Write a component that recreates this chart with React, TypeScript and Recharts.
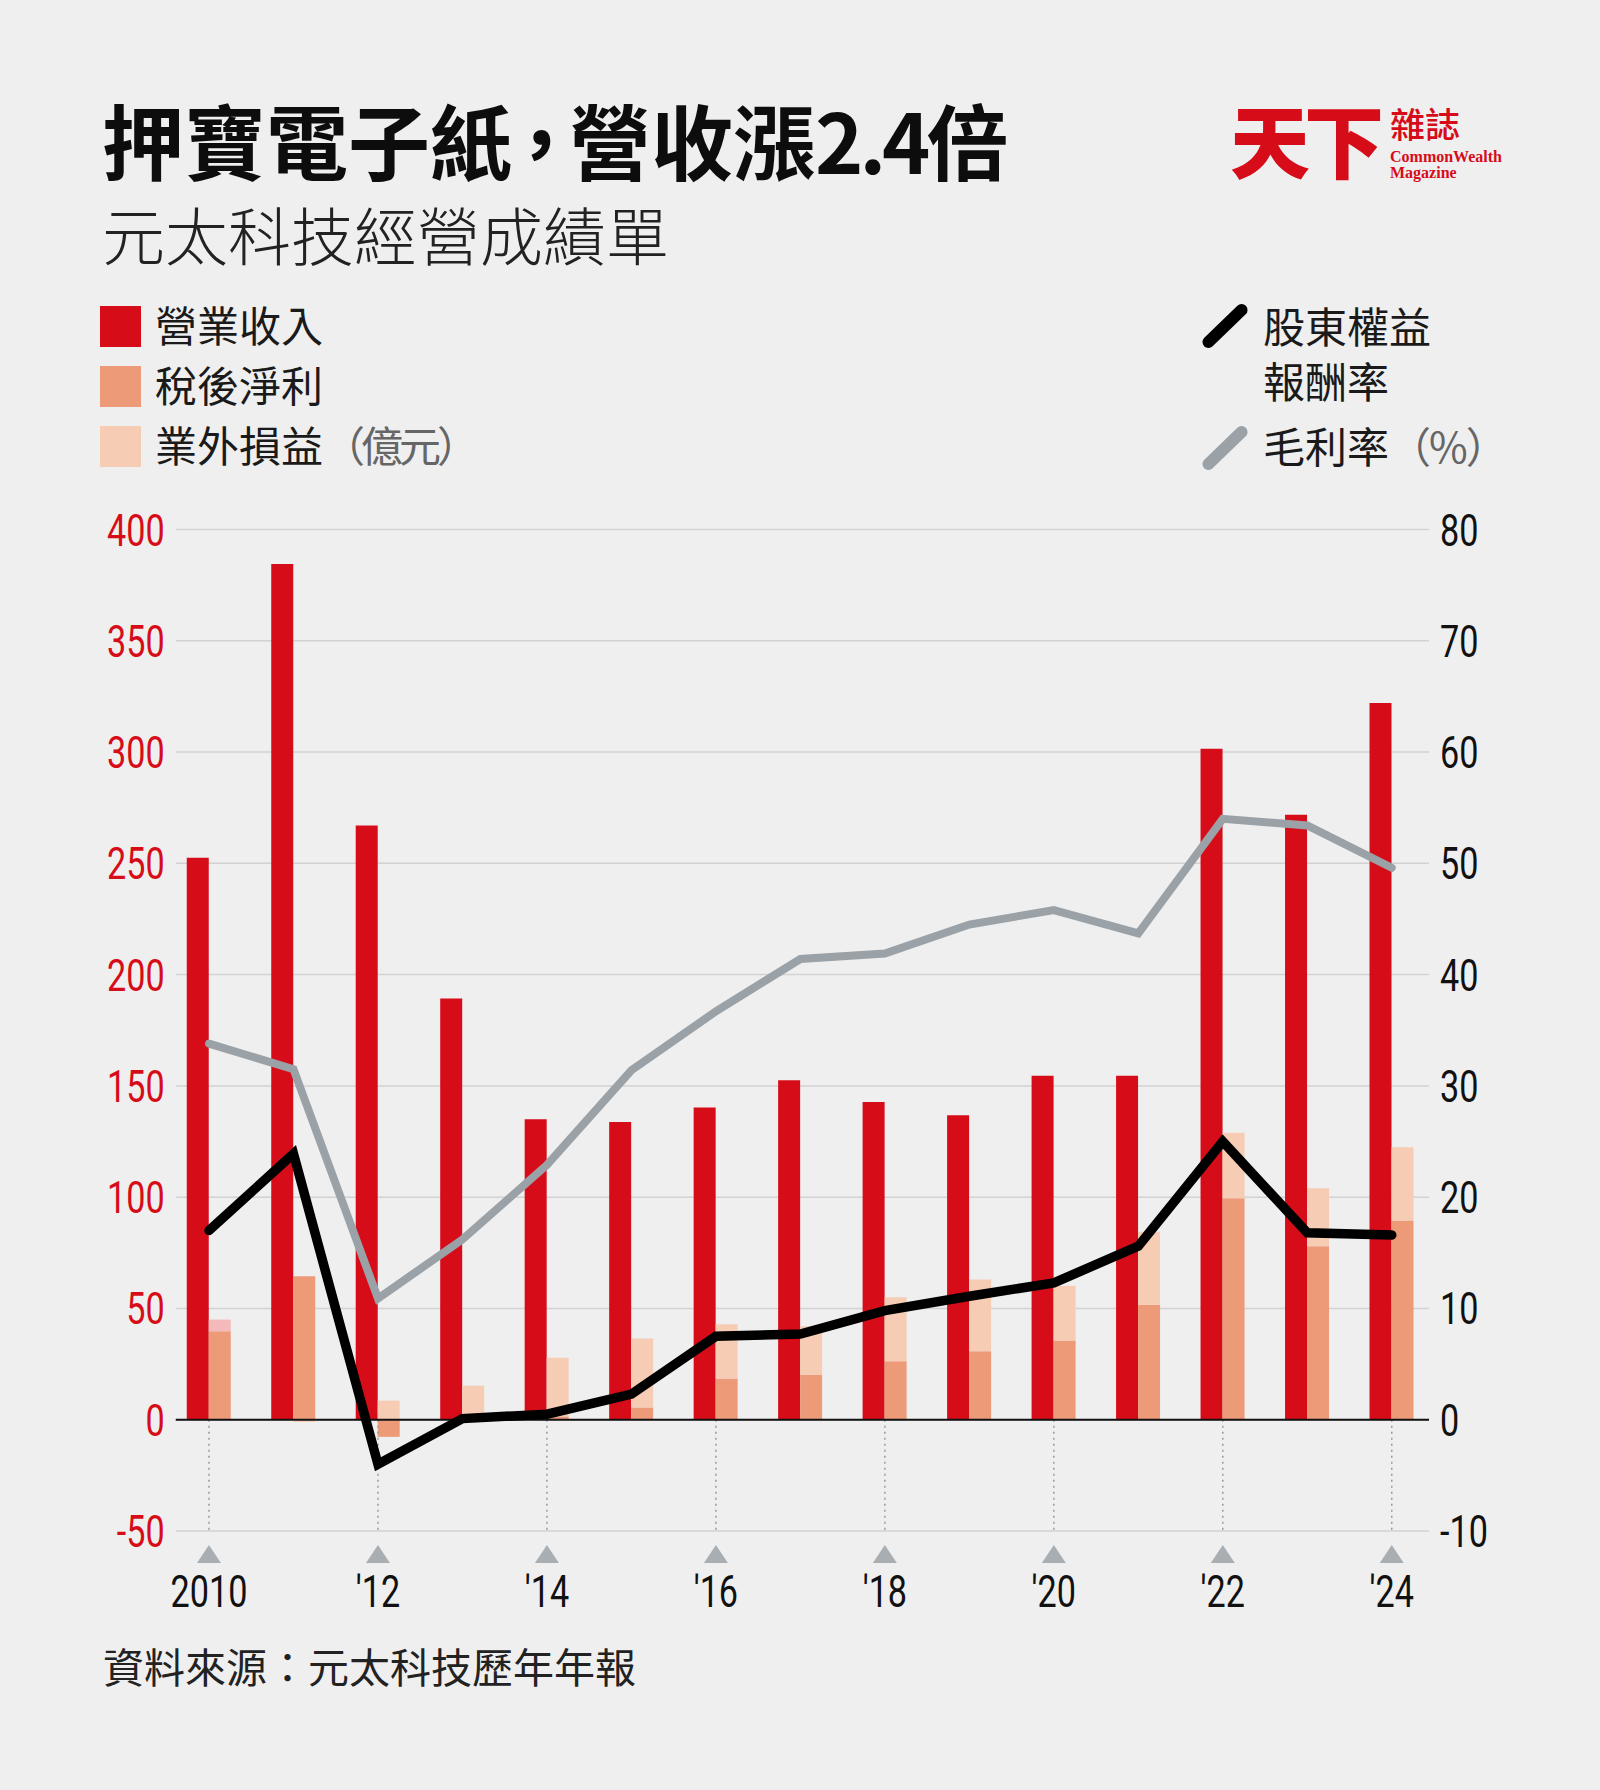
import { ComposedChart, Bar, Line, XAxis, YAxis, CartesianGrid, ReferenceLine, Cell } from "recharts";

const years = ["2010", "2011", "2012", "2013", "2014", "2015", "2016", "2017", "2018", "2019", "2020", "2021", "2022", "2023", "2024"];
// 億元
const revenue = [252.5, 384.5, 267, 189.3, 135, 133.8, 140.3, 152.5, 142.8, 136.8, 154.5, 154.5, 301.5, 271.8, 322];
const netProfit = [39.8, 64.5, -7.7, 0.3, 1.5, 5.5, 18.5, 20.2, 26.3, 30.8, 35.6, 51.7, 99.5, 78, 89.5];
const nonOperating = [5.2, -1, 8.6, 15, 26.4, 31, 24.4, 21.8, 28.7, 32.2, 24.6, 32.8, 29.5, 26, 32.9];
// %
const roe = [17.0, 23.9, -4.0, 0.1, 0.5, 2.3, 7.5, 7.7, 9.8, 11.1, 12.3, 15.6, 25.0, 16.8, 16.6];
const grossMargin = [33.8, 31.5, 10.9, 16.2, 22.9, 31.4, 36.7, 41.4, 41.9, 44.5, 45.8, 43.7, 54.0, 53.4, 49.6];

const leftTicks = [-50, 0, 50, 100, 150, 200, 250, 300, 350, 400];
const rightTicks = [-10, 0, 10, 20, 30, 40, 50, 60, 70, 80];
const markedYears = ["2010", "2012", "2014", "2016", "2018", "2020", "2022", "2024"];
const markedLabels = ["2010", "'12", "'14", "'16", "'18", "'20", "'22", "'24"];

const RED = "#d70c19";
const ORANGE = "#ec9a78";
const LIGHT = "#f6ccb5";
const PINK = "#f3b9bb";
const GRAY = "#9aa1a7";
const BG = "#efefef";
const CJK = "'Noto Sans CJK TC', 'Noto Sans CJK SC', sans-serif";
const NUM = "Roboto, 'Noto Sans', sans-serif";
const SQUEEZE = 0.76; // numbers in the original use a condensed face

const data = years.map((year, i) => ({
    year,
    revenue: revenue[i],
    net: netProfit[i],
    nonop: nonOperating[i],
    roe: roe[i],
    gross: grossMargin[i],
}));

const NumText = ({ x, y, anchor, color, children }: any) => (
    <text
        transform={`translate(${x},${y}) scale(${SQUEEZE},1)`}
        textAnchor={anchor}
        fill={color}
        fontSize={45}
        fontWeight={400}
        fontFamily={NUM}
    >
        {children}
    </text>
);

const LeftTick = ({ x, y, payload }: any) => (
    <NumText x={x - 2} y={y + 16} anchor="end" color={RED}>
        {payload.value}
    </NumText>
);

const RightTick = ({ x, y, payload }: any) => (
    <NumText x={x + 6} y={y + 16} anchor="start" color="#111">
        {payload.value}
    </NumText>
);

const YearTick = ({ x, y, payload }: any) => {
    const idx = markedYears.indexOf(payload.value);
    if (idx < 0) return <g />;
    return (
        <g>
            <path d={`M${x - 12},${y + 32} L${x + 12},${y + 32} L${x},${y + 14} Z`} fill="#a9aeb3" />
            <NumText x={x} y={y + 76} anchor="middle" color="#111">
                {markedLabels[idx]}
            </NumText>
        </g>
    );
};

const gridLine = (p: any) => (
    <line key={`grid-${p.y1}`} x1={p.x1 + 9} x2={p.x2 - 5} y1={p.y1} y2={p.y2} stroke="#d2d2d2" strokeWidth={1.5} />
);

const zeroLine = (p: any) => (
    <line x1={p.x1 + 9} x2={p.x2 - 5} y1={p.y1} y2={p.y2} stroke="#111" strokeWidth={2} />
);

const box = (left: number, top: number, size: number, extra: any = {}) => ({
    position: "absolute" as const,
    left,
    top,
    fontSize: size,
    lineHeight: 1,
    fontFamily: CJK,
    whiteSpace: "nowrap" as const,
    ...extra,
});

function Legend() {
    const sq = (top: number, color: string) => (
        <div style={{ position: "absolute", left: 100, top, width: 41, height: 41, background: color }} />
    );
    const stroke = (cy: number, color: string) => (
        <div
            style={{
                position: "absolute",
                left: 1225 - 29,
                top: cy - 6,
                width: 58,
                height: 12,
                borderRadius: 6,
                background: color,
                transform: "rotate(-44deg)",
            }}
        />
    );
    return (
        <>
            {sq(306, RED)}
            {sq(366, ORANGE)}
            {sq(426, LIGHT)}
            <div style={box(155, 303, 42, { color: "#1a1a1a" })}>營業收入</div>
            <div style={box(155, 363, 42, { color: "#1a1a1a" })}>稅後淨利</div>
            <div style={box(155, 423, 42, { color: "#1a1a1a" })}>
                業外損益<span style={{ color: "#666", letterSpacing: -4 }}>（億元）</span>
            </div>

            {stroke(326, "#000")}
            {stroke(448, GRAY)}
            <div style={box(1263, 304, 42, { color: "#1a1a1a" })}>股東權益</div>
            <div style={box(1263, 359, 42, { color: "#1a1a1a" })}>報酬率</div>
            <div style={box(1263, 424, 42, { color: "#1a1a1a" })}>
                毛利率<span style={{ color: "#666", letterSpacing: -2 }}>（%）</span>
            </div>
        </>
    );
}

export default function App() {
    return (
        <div style={{ position: "absolute", left: 0, top: 0, width: 1600, height: 1790, background: BG, overflow: "hidden" }}>
            <div style={box(102, 98, 82, { fontWeight: 700, color: "#0d0d0d" })}>
                押寶電子<span style={{ letterSpacing: -12 }}>紙</span>
                <span style={{ letterSpacing: -13 }}>，</span>營收漲<span style={{ letterSpacing: -4 }}>2.4</span>倍
            </div>
            <div style={box(102, 201, 63, { fontWeight: 300, color: "#222" })}>元太科技經營成績單</div>

            <div style={box(1230, 97, 80, { fontWeight: 900, color: RED, letterSpacing: -6 })}>天下</div>
            <div style={box(1390, 105, 35, { fontWeight: 500, color: RED })}>雜誌</div>
            <div style={{ position: "absolute", left: 1390, top: 149, fontSize: 16, lineHeight: "16px", fontFamily: "'Liberation Serif', serif", fontWeight: 700, color: RED }}>
                CommonWealth
            </div>
            <div style={{ position: "absolute", left: 1390, top: 165, fontSize: 16, lineHeight: "16px", fontFamily: "'Liberation Serif', serif", fontWeight: 700, color: RED }}>
                Magazine
            </div>

            <Legend />

            <div style={{ position: "absolute", left: 0, top: 0 }}>
                <ComposedChart
                    width={1600}
                    height={1790}
                    data={data}
                    margin={{ top: 529.5, right: 66, bottom: 159, left: 66.75 }}
                    barGap={0}
                    stackOffset="sign"
                >
                    <CartesianGrid yAxisId="left" vertical={false} horizontal={gridLine} />
                    <XAxis
                        dataKey="year"
                        height={100}
                        axisLine={false}
                        tickLine={false}
                        tickSize={0}
                        tickMargin={0}
                        interval={0}
                        tick={<YearTick />}
                    />
                    <YAxis
                        yAxisId="left"
                        width={100}
                        domain={[-50, 400]}
                        ticks={leftTicks}
                        axisLine={false}
                        tickLine={false}
                        tickSize={0}
                        tickMargin={0}
                        tick={<LeftTick />}
                    />
                    <YAxis
                        yAxisId="right"
                        orientation="right"
                        width={100}
                        domain={[-10, 80]}
                        ticks={rightTicks}
                        axisLine={false}
                        tickLine={false}
                        tickSize={0}
                        tickMargin={0}
                        tick={<RightTick />}
                    />
                    {markedYears.map((yr) => (
                        <ReferenceLine
                            key={yr}
                            yAxisId="left"
                            segment={[{ x: yr, y: 0 }, { x: yr, y: -50 }]}
                            stroke="#9a9a9a"
                            strokeWidth={1.5}
                            strokeDasharray="2 4"
                        />
                    ))}
                    <Bar yAxisId="left" dataKey="revenue" stackId="a" fill={RED} barSize={22} isAnimationActive={false} />
                    <Bar yAxisId="left" dataKey="net" stackId="p" fill={ORANGE} barSize={22} isAnimationActive={false} />
                    <Bar yAxisId="left" dataKey="nonop" stackId="p" fill={LIGHT} barSize={22} isAnimationActive={false}>
                        {data.map((d, i) => (
                            <Cell key={d.year} fill={i === 0 ? PINK : LIGHT} />
                        ))}
                    </Bar>
                    <ReferenceLine yAxisId="left" y={0} stroke="#111" strokeWidth={2} shape={zeroLine} />
                    <Line
                        yAxisId="right"
                        dataKey="gross"
                        stroke={GRAY}
                        strokeWidth={8}
                        dot={false}
                        activeDot={false}
                        strokeLinecap="round"
                        isAnimationActive={false}
                    />
                    <Line
                        yAxisId="right"
                        dataKey="roe"
                        stroke="#000"
                        strokeWidth={9.5}
                        dot={false}
                        activeDot={false}
                        strokeLinecap="round"
                        isAnimationActive={false}
                    />
                </ComposedChart>
            </div>

            <div style={box(103, 1645, 41, { color: "#222" })}>資料來源：元太科技歷年年報</div>
        </div>
    );
}
